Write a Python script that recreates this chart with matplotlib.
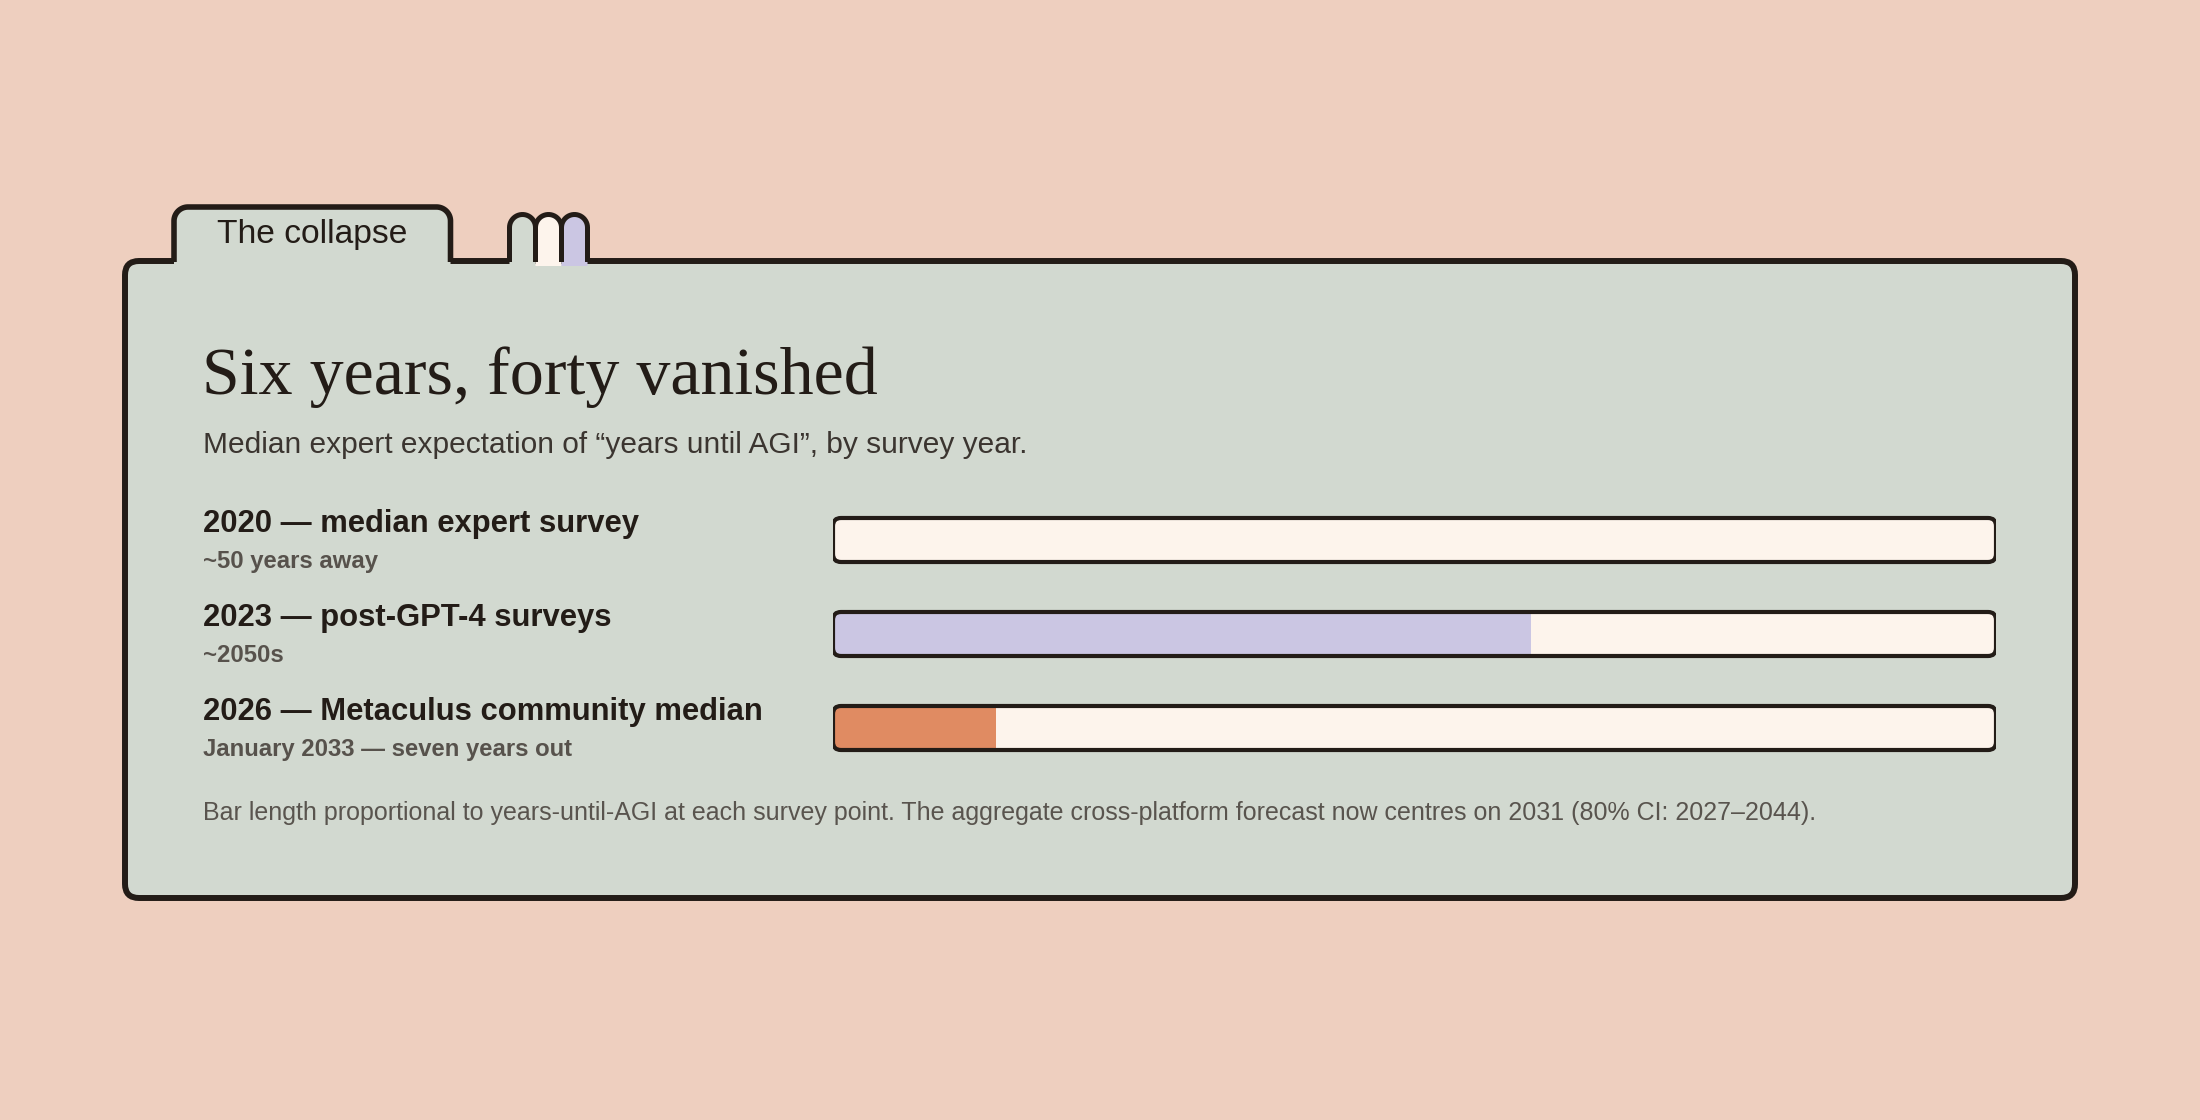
import numpy as np
import matplotlib
matplotlib.use('Agg')
import matplotlib.pyplot as plt
import matplotlib.transforms as mtransforms
from matplotlib.patches import FancyBboxPatch, Polygon

# --- data -------------------------------------------------------------
survey_labels = ['2020 — median expert survey',
                 '2023 — post-GPT-4 surveys',
                 '2026 — Metaculus community median']
survey_notes = ['~50 years away', '~2050s', 'January 2033 — seven years out']
years_until_agi = [50, 30, 7]
scale_max = 50

tab_label = 'The collapse'
title = 'Six years, forty vanished'
subtitle = 'Median expert expectation of “years until AGI”, by survey year.'
footnote = ('Bar length proportional to years-until-AGI at each survey point. '
            'The aggregate cross-platform forecast now centres on 2031 (80% CI: 2027–2044).')

# --- colours ----------------------------------------------------------
PEACH = '#eecfbf'
PANEL = '#d2d9d0'
INK = '#231c17'
CREAM = '#fdf4ec'
LAVENDER = '#cbc6e3'
ORANGE = '#e08b62'
bar_colors = [CREAM, LAVENDER, ORANGE]

W, H = 2200, 1120
fig = plt.figure(figsize=(W / 100, H / 100), dpi=100, facecolor=PEACH)

# background axes in pixel units (y down)
bg = fig.add_axes([0, 0, 1, 1])
bg.set_xlim(0, W)
bg.set_ylim(H, 0)
bg.axis('off')


def arc(cx, cy, r, a0, a1, n=24):
    a = np.radians(np.linspace(a0, a1, n))
    return list(zip(cx + r * np.cos(a), cy - r * np.sin(a)))


# panel
panel = FancyBboxPatch((125, 261), 1950, 637, boxstyle='round,pad=0,rounding_size=14',
                       fc=PANEL, ec=INK, lw=4.3, zorder=1)
bg.add_patch(panel)

# folder tab
tab_pts = [(174, 262), (174, 221)] + arc(188, 221, 14, 180, 90) + arc(436.5, 221, 14, 90, 0) + [(450.5, 262)]
bg.add_patch(Polygon(tab_pts + [(450.5, 266), (174, 266)], closed=True, fc=PANEL, ec='none', zorder=2))
bg.add_patch(Polygon(tab_pts, closed=False, fill=False, ec=INK, lw=4.0, joinstyle='round', zorder=3))
bg.text(312, 243, tab_label, ha='center', va='baseline', fontsize=24.2,
        family='Liberation Sans', color=INK, zorder=4)

# little swatch fingers
for i, c in enumerate([PANEL, CREAM, LAVENDER]):
    x0 = 509.5 + 26 * i
    pts = [(x0, 262), (x0, 227.5)] + arc(x0 + 13, 227.5, 13, 180, 0) + [(x0 + 26, 262)]
    bg.add_patch(Polygon(pts + [(x0 + 26, 266), (x0, 266)], closed=True, fc=c, ec='none', zorder=2))
for i in range(3):
    x0 = 509.5 + 26 * i
    pts = [(x0, 262), (x0, 227.5)] + arc(x0 + 13, 227.5, 13, 180, 0) + [(x0 + 26, 262)]
    bg.add_patch(Polygon(pts, closed=False, fill=False, ec=INK, lw=3.6, joinstyle='round', zorder=3))

# titles
bg.text(202, 394, title, ha='left', va='baseline', fontsize=49,
        family='Liberation Serif', color=INK, zorder=4)
bg.text(203, 453, subtitle, ha='left', va='baseline', fontsize=21.5,
        family='Liberation Sans', color='#3b3530', zorder=4)
bg.text(203, 820, footnote, ha='left', va='baseline', fontsize=18,
        family='Liberation Sans', color='#59544e', zorder=4)

# --- bars -------------------------------------------------------------
left_px, right_px, top_px, bot_px = 833, 1996, 493, 775
bax = fig.add_axes([left_px / W, 1 - bot_px / H, (right_px - left_px) / W, (bot_px - top_px) / H])
bax.set_xlim(0, scale_max)
bax.set_ylim(2.5, -0.5)
bax.axis('off')
bax.patch.set_alpha(0)

rows = np.arange(len(years_until_agi))
h = 44 / 94
px_x = (right_px - left_px) / scale_max
r = 8 / px_x
m = px_x / 94

bars = bax.barh(rows, years_until_agi, height=h, color=bar_colors, zorder=2)
for i, bar in zip(rows, bars):
    track = FancyBboxPatch((0, i - h / 2), scale_max, h, boxstyle=f'round,pad=0,rounding_size={r}',
                           mutation_aspect=m, fc=CREAM, ec='none', zorder=1)
    bax.add_patch(track)
    bar.set_clip_path(track)
    bax.add_patch(FancyBboxPatch((0, i - h / 2), scale_max, h, boxstyle=f'round,pad=0,rounding_size={r}',
                                 mutation_aspect=m, fill=False, ec=INK, lw=3.0, zorder=3))

# row labels, positioned on the bar rows
row_trans = mtransforms.blended_transform_factory(bg.transData, bax.transData)
lab_trans = mtransforms.offset_copy(row_trans, fig=fig, y=8, units='dots')
note_trans = mtransforms.offset_copy(row_trans, fig=fig, y=-28, units='dots')
for i, (lab, note) in enumerate(zip(survey_labels, survey_notes)):
    bax.text(203, i, lab, transform=lab_trans, ha='left', va='baseline', fontsize=22.3,
             fontweight='bold', family='Liberation Sans', color=INK, clip_on=False)
    bax.text(203, i, note, transform=note_trans, ha='left', va='baseline', fontsize=17.2,
             fontweight='bold', family='Liberation Sans', color='#57524c', clip_on=False)

fig.savefig('out.png', dpi=100, facecolor=PEACH)
